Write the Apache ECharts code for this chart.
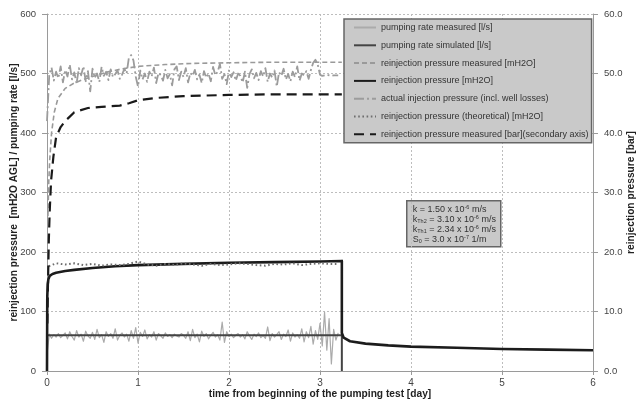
<!DOCTYPE html>
<html>
<head>
<meta charset="utf-8">
<script src="https://cdn.jsdelivr.net/npm/echarts@6/dist/echarts.min.js"></script>
<style>
  html, body { margin: 0; padding: 0; background: #fff; }
  #chart { width: 638px; height: 401px; }
</style>
</head>
<body>
<div id="chart"></div>
<script>
// Logger sampling times [day] shared by the two logged series
const logT = [
  0, 0.025, 0.05, 0.075, 0.1, 0.125, 0.15, 0.175,
  0.2, 0.225, 0.25, 0.275, 0.3, 0.325, 0.35, 0.375,
  0.4, 0.425, 0.45, 0.475, 0.5, 0.525, 0.55, 0.575,
  0.6, 0.625, 0.65, 0.675, 0.7, 0.725, 0.75, 0.775,
  0.8, 0.825, 0.85, 0.875, 0.9, 0.925, 0.95, 0.975,
  1.0, 1.025, 1.05, 1.075, 1.1, 1.125, 1.15, 1.175,
  1.2, 1.225, 1.25, 1.275, 1.3, 1.325, 1.35, 1.375,
  1.4, 1.425, 1.45, 1.475, 1.5, 1.525, 1.55, 1.575,
  1.6, 1.625, 1.65, 1.675, 1.7, 1.725, 1.75, 1.775,
  1.8, 1.825, 1.85, 1.875, 1.9, 1.925, 1.95, 1.975,
  2.0, 2.025, 2.05, 2.075, 2.1, 2.125, 2.15, 2.175,
  2.2, 2.225, 2.25, 2.275, 2.3, 2.325, 2.35, 2.375,
  2.4, 2.425, 2.45, 2.475, 2.5, 2.525, 2.55, 2.575,
  2.6, 2.625, 2.65, 2.675, 2.7, 2.725, 2.75, 2.775,
  2.8, 2.825, 2.85, 2.875, 2.9, 2.925, 2.95, 2.975,
  3.0, 3.025, 3.05, 3.075, 3.1, 3.125, 3.15, 3.175,
  3.2
];

// pumping rate measured [l/s]
const rateMeasured = [
  28, 62, 55, 61, 57, 63, 56, 60,
  64, 54, 66, 58, 52, 68, 57, 62,
  50, 67, 59, 55, 65, 53, 70, 56,
  61, 48, 66, 58, 63, 55, 71, 52,
  60, 64, 57, 62, 50, 68, 55, 73,
  47, 65, 58, 69, 54, 61, 57, 66,
  52, 63, 59, 55, 64, 58, 61, 56,
  62, 59, 57, 63, 60, 55, 66, 51,
  70, 56, 62, 49, 67, 58, 63, 54,
  60, 65, 57, 61, 52, 82, 48, 66,
  58, 62, 56, 60, 63, 57, 61, 54,
  66, 59, 53, 62, 58, 64, 56, 60,
  55, 74, 51, 63, 57, 61, 66, 53,
  62, 58, 69, 50, 64, 57, 61, 55,
  71, 49, 66, 56, 75, 45, 68, 53,
  80, 42, 99, 35, 88, 12, 70, 52,
  64
];

// actual injection pressure incl. well losses [mH2O]
const injActual = [
  420, 498, 510, 488, 503, 492, 512, 485,
  506, 495, 515, 490, 502, 483, 509, 497,
  512, 487, 504, 470, 508, 493, 500, 486,
  511, 496, 503, 489, 507, 494, 499, 505,
  491, 498, 508, 500, 527, 531, 522, 495,
  478, 505, 490, 500, 486, 503, 495, 510,
  484, 501, 497, 488, 506, 492, 499, 480,
  507, 512, 489, 503, 494, 509, 485, 501,
  496, 506, 490, 498, 484, 504, 493, 500,
  487, 511, 497, 503, 516, 491, 499, 482,
  505, 494, 502, 488, 500, 496, 485, 503,
  476, 499, 507, 492, 501, 489, 504, 495,
  509, 486, 500, 493, 505, 478, 502, 496,
  508, 490, 499, 487, 503, 494, 512, 488,
  500, 497, 504, 491, 506, 518, 523, 515,
  498, 496, 497, 498, 497, 496, 497, 497,
  497
];

// pumping rate simulated [l/s]
const rateSimT = [0, 0, 3.24, 3.24];
const rateSimV = [0, 60, 60, 0];

// reinjection pressure measured [mH2O]
const presMeasT = [0.01, 0.02, 0.03, 0.05, 0.08, 0.12, 0.2, 0.3, 0.4, 0.5, 0.65, 0.8, 1.0, 1.3, 1.6, 2.0, 2.5, 3.24];
const presMeasV = [260, 320, 355, 400, 435, 458, 475, 484, 490, 495, 502, 507, 512, 515, 517, 518, 519, 519];

// reinjection pressure, simulated [mH2O]
const presSimT = [0, 0.003, 0.008, 0.015, 0.03, 0.06, 0.1, 0.2, 0.3, 0.5, 0.75, 1.0, 1.5, 2.0, 2.5, 3.0, 3.24, 3.24, 3.26, 3.33, 3.5, 3.75, 4.0, 4.5, 5.0, 5.5, 6.0];
const presSimV = [0, 125, 146, 154, 160, 163, 165, 168, 170, 173, 176, 178, 180, 182, 183, 184, 185, 64, 56, 50, 46, 43, 41, 39, 37, 36, 35];

// reinjection pressure (theoretical) [mH2O]
const theoT = [0.02, 0.1, 0.2, 0.3, 0.4, 0.5, 0.6, 0.7, 0.8, 0.9, 1.0, 1.1, 1.2, 1.3, 1.4, 1.5, 1.6, 1.7, 1.8, 1.9, 2.0, 2.1, 2.2, 2.3, 2.4, 2.5, 2.6, 2.7, 2.8, 2.9, 3.0, 3.1, 3.2];
const theoV = [176, 181, 179, 181, 178, 180, 177, 179, 178, 180, 184, 179, 177, 180, 178, 181, 179, 177, 180, 178, 179, 181, 180, 178, 177, 180, 179, 181, 178, 180, 181, 180, 180];

// reinjection pressure measured [bar] (secondary axis)
const barT = [0.004, 0.01, 0.02, 0.03, 0.045, 0.07, 0.1, 0.15, 0.2, 0.3, 0.45, 0.6, 0.8, 0.9, 1.0, 1.2, 1.5, 2.0, 2.5, 3.24];
const barV = [8, 14, 22, 27, 32, 36, 39.3, 41, 42, 43.5, 44.2, 44.4, 44.6, 45, 45.5, 45.9, 46.2, 46.4, 46.5, 46.5];

// axis ticks: [min, max, interval]
const dayTicks = [0, 6, 1];
const leftTicks = [0, 600, 100];
const rightTicks = [0, 60, 10];

const seriesNames = [
  'pumping rate measured [l/s]',
  'pumping rate simulated [l/s]',
  'reinjection pressure measured [mH2O]',
  'reinjection pressure [mH2O]',
  'actual injection pressure (incl. well losses)',
  'reinjection pressure (theoretical) [mH2O]',
  'reinjection pressure measured [bar](secondary axis)'
];

const pairs = (xs, ys) => xs.map((x, i) => [x, ys[i]]);
const FONT = "'Liberation Sans', Arial, sans-serif";

const chart = echarts.init(document.getElementById('chart'), null, { renderer: 'canvas' });

function line(name, data, color, width, type, yAxisIndex) {
  return {
    name, type: 'line', data, yAxisIndex: yAxisIndex || 0,
    symbol: 'none', showSymbol: false, smooth: false,
    animation: false, silent: true,
    lineStyle: { color, width, type: type || 'solid', cap: 'butt', join: 'round' },
    itemStyle: { color }
  };
}

const gridLine = { show: true, lineStyle: { color: '#bdbdbd', type: [2, 2], width: 1 } };
const titleStyle = { fontFamily: FONT, fontSize: 10.2, fontWeight: 'bold', color: '#222' };
const tickText = { fontFamily: FONT, fontSize: 9.5, color: '#444' };
const axisLineStyle = { show: true, lineStyle: { color: '#9a9a9a', width: 1 } };

chart.setOption({
  backgroundColor: '#ffffff',
  animation: false,
  grid: { left: 47, right: 45, top: 14, bottom: 30, containLabel: false, outerBoundsMode: 'none' },
  xAxis: {
    type: 'value', min: dayTicks[0], max: dayTicks[1], interval: dayTicks[2],
    name: 'time from beginning of the pumping test [day]',
    nameLocation: 'middle', nameGap: 18, nameMoveOverlap: false,
    nameTextStyle: titleStyle,
    axisLine: axisLineStyle,
    axisTick: { show: true, length: 4, lineStyle: { color: '#9a9a9a' } },
    axisLabel: Object.assign({ margin: 7 }, tickText, { fontSize: 10 }),
    splitLine: gridLine
  },
  yAxis: [
    {
      type: 'value', min: leftTicks[0], max: leftTicks[1], interval: leftTicks[2],
      name: 'reinjection pressure  [mH2O AGL] / pumping rate [l/s]',
      nameLocation: 'middle', nameGap: 28, nameRotate: 90, nameMoveOverlap: false,
      nameTextStyle: titleStyle,
      axisLine: axisLineStyle,
      axisTick: { show: true, length: 5, lineStyle: { color: '#9a9a9a' } },
      axisLabel: Object.assign({ margin: 11 }, tickText),
      splitLine: gridLine
    },
    {
      type: 'value', min: rightTicks[0], max: rightTicks[1], interval: rightTicks[2],
      position: 'right',
      name: 'reinjection pressure [bar]',
      nameLocation: 'middle', nameGap: 33, nameRotate: 90, nameMoveOverlap: false,
      nameTextStyle: titleStyle,
      axisLine: axisLineStyle,
      axisTick: { show: true, length: 5, lineStyle: { color: '#9a9a9a' } },
      axisLabel: Object.assign({ margin: 11, formatter: v => v.toFixed(1) }, tickText),
      splitLine: { show: false }
    }
  ],
  legend: {
    orient: 'vertical', left: 344, top: 19,
    data: seriesNames,
    itemWidth: 22, itemHeight: 10, itemGap: 8.8,
    padding: [4, 3, 4, 9],
    backgroundColor: '#c9c9c9', borderColor: '#666', borderWidth: 1.5, borderRadius: 0,
    itemStyle: { opacity: 0 },
    textStyle: { fontFamily: FONT, fontSize: 9, color: '#333' },
    selectedMode: false
  },
  graphic: [{
    type: 'group', left: 406, top: 200, z: 100,
    children: [
      { type: 'rect', shape: { x: 0, y: 0, width: 94, height: 46 },
        style: { fill: '#c9c9c9', stroke: '#666', lineWidth: 1.5 } },
      { type: 'text', x: 6, y: 4,
        style: {
          text: '{n|k = 1.50 x 10}{sup|-6}{n| m/s}\n' +
                '{n|k}{sub|Th2}{n| = 3.10 x 10}{sup|-6}{n| m/s}\n' +
                '{n|k}{sub|Th1}{n| = 2.34 x 10}{sup|-6}{n| m/s}\n' +
                '{n|S}{sub|0}{n| = 3.0 x 10}{sup|-7}{n| 1/m}',
          fill: '#333', font: '9px ' + FONT,
          rich: {
            n: { fontSize: 9, fontFamily: FONT, lineHeight: 10, fill: '#333' },
            sup: { fontSize: 5.5, fontFamily: FONT, lineHeight: 10, verticalAlign: 'top', fill: '#333' },
            sub: { fontSize: 5.5, fontFamily: FONT, lineHeight: 10, verticalAlign: 'bottom', fill: '#333' }
          }
        } }
    ]
  }],
  series: [
    line(seriesNames[0], pairs(logT, rateMeasured), '#ababab', 1.2),
    line(seriesNames[1], pairs(rateSimT, rateSimV), '#444444', 2),
    line(seriesNames[2], pairs(presMeasT, presMeasV), '#9a9a9a', 1.6, [5, 3]),
    line(seriesNames[3], pairs(presSimT, presSimV), '#1c1c1c', 2.6),
    line(seriesNames[4], pairs(logT, injActual), '#9c9c9c', 1.8, [10, 3, 2, 3]),
    line(seriesNames[5], pairs(theoT, theoV), '#6e6e6e', 2, [1.6, 2.6]),
    line(seriesNames[6], pairs(barT, barV), '#1a1a1a', 2.2, [10, 6], 1)
  ]
});
</script>
</body>
</html>
